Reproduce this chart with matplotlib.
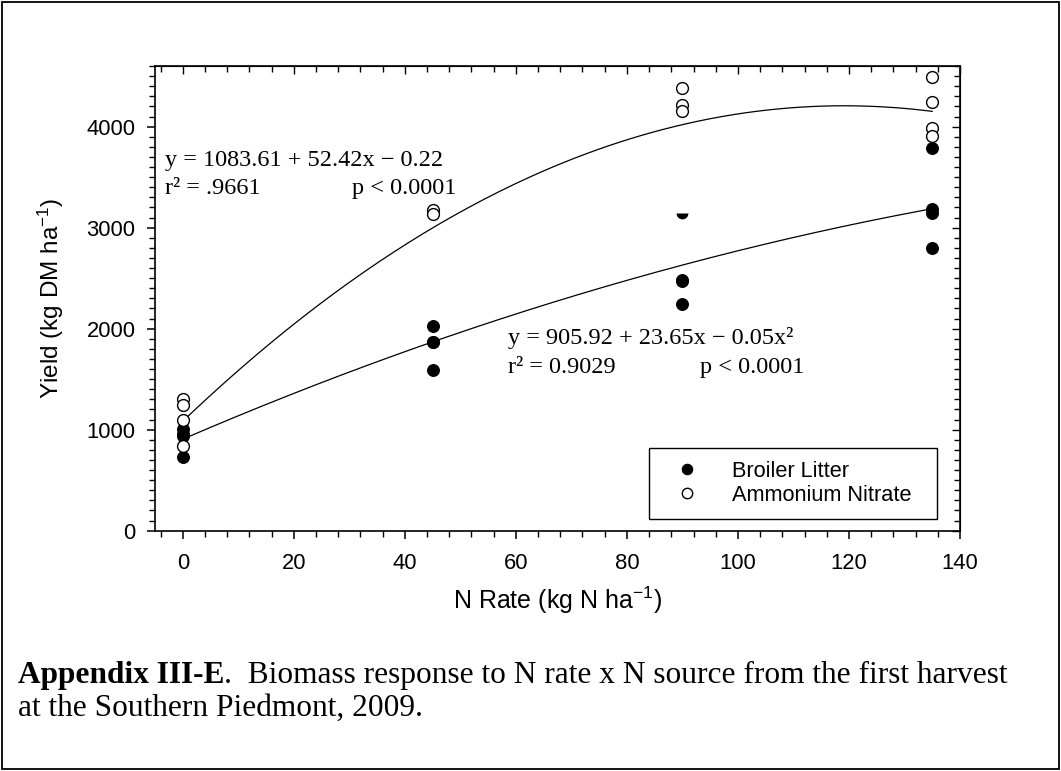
import numpy as np
import matplotlib
matplotlib.use("Agg")
from matplotlib import pyplot as plt
from matplotlib.patches import Rectangle

# N rate (kg N/ha) and yields (kg DM/ha)
bl_x = [0, 0, 0, 0, 45, 45, 45, 45, 90, 90, 90, 135, 135, 135, 135]
bl_y = [1005, 960, 940, 727, 2027, 1871, 1865, 1591, 2480, 2470, 2245, 3792, 3182, 3149, 2796]
bl_half_x = [90]          # partly hidden broiler litter point
bl_half_y = [3142]

an_x = [0, 0, 0, 0, 45, 45, 90, 90, 90, 135, 135, 135, 135]
an_y = [1305, 1240, 1095, 835, 3175, 3135, 4380, 4215, 4158, 4495, 4241, 3990, 3908]

# quadratic fits printed on the chart: b0 + b1*x + b2*x^2
bl_coef = [905.92, 23.65, -0.05]
an_coef = [1083.61, 52.42, -0.22]

x_ticks = [0, 20, 40, 60, 80, 100, 120, 140]
y_ticks = [0, 1000, 2000, 3000, 4000]

SANS = "Liberation Sans"
SERIF = "Liberation Serif"
plt.rcParams["font.family"] = SANS
plt.rcParams["mathtext.fontset"] = "custom"
plt.rcParams["mathtext.rm"] = SANS
plt.rcParams["mathtext.default"] = "regular"

fig = plt.figure(figsize=(10.61, 7.71), dpi=100)
ax = fig.add_axes([0.1461, 0.3117, 0.7587, 0.6027])

xs = np.linspace(0, 135, 200)
for c in (an_coef, bl_coef):
    ax.plot(xs, c[0] + c[1] * xs + c[2] * xs ** 2, color="black", lw=0.9, zorder=2)

ax.plot(bl_x, bl_y, "o", ms=8.5, mfc="black", mec="black", mew=0.8, ls="none",
        label="Broiler Litter", zorder=3)
ax.plot(an_x, an_y, "o", ms=8.5, mfc="white", mec="black", mew=1.0, ls="none",
        label="Ammonium Nitrate", zorder=3)
ax.plot(bl_half_x, bl_half_y, "o", ms=8.5, mfc="black", mec="none", fillstyle="bottom",
        markerfacecoloralt="none", ls="none", zorder=3)

ax.set_xlim(-5, 140)
ax.set_ylim(0, 4600)
ax.set_xticks(x_ticks)
ax.set_yticks(y_ticks)
ax.set_xticks(np.arange(-4, 141, 4), minor=True)
ax.set_yticks(np.arange(0, 4601, 100), minor=True)
ax.tick_params(axis="both", which="major", direction="out", length=6, width=1.1,
               labelsize=15.8, top=False, right=False)
ax.tick_params(axis="both", which="minor", direction="out", length=4, width=1.0)
ax.tick_params(axis="y", which="major", pad=8)
ax.tick_params(axis="x", which="major", pad=10)

# inward ticks on top and right
sec_x = ax.secondary_xaxis("top")
sec_x.set_xticks(x_ticks)
sec_x.set_xticks(np.arange(-4, 141, 4), minor=True)
sec_x.tick_params(which="major", direction="in", length=6, width=1.0, labeltop=False)
sec_x.tick_params(which="minor", direction="in", length=4, width=1.0)
sec_y = ax.secondary_yaxis("right")
sec_y.set_yticks(y_ticks)
sec_y.set_yticks(np.arange(0, 4601, 100), minor=True)
sec_y.tick_params(which="major", direction="in", length=6, width=1.0, labelright=False)
sec_y.tick_params(which="minor", direction="in", length=4, width=1.0)
for s in ax.spines.values():
    s.set_linewidth(1.2)

ax.set_xlabel("N Rate (kg N ha$^{-1}$)", fontsize=18)
ax.set_ylabel("Yield (kg DM ha$^{-1}$)", fontsize=17.5)
ax.xaxis.set_label_coords(0.5, -0.115)
ax.yaxis.set_label_coords(-0.11, 0.5)

eq_kw = dict(family=SERIF, fontsize=17.5, ha="left", va="center")
ax.text(-3.2, 3665, "y = 1083.61 + 52.42x \u2212 0.22", **eq_kw)
ax.text(-3.2, 3385, "r\u00b2 = .9661", **eq_kw)
ax.text(30.5, 3385, "p < 0.0001", **eq_kw)
ax.text(58.6, 1905, "y = 905.92 + 23.65x \u2212 0.05x\u00b2", **eq_kw)
ax.text(58.6, 1620, "r\u00b2 = 0.9029", **eq_kw)
ax.text(93.2, 1620, "p < 0.0001", **eq_kw)

leg = ax.legend(loc="lower left", bbox_to_anchor=(0.614, 0.025, 0.357, 0.151),
                mode="expand", fontsize=15.7, frameon=True, fancybox=False,
                edgecolor="black", framealpha=1, borderpad=0.6, handletextpad=0.9,
                labelspacing=0.15, handlelength=2.3, borderaxespad=0)
leg.get_frame().set_linewidth(1.0)
for h in leg.legend_handles:
    h.set_markersize(7.5)

# caption under the chart
cap = 22.6
bold = fig.text(0.017, 0.1245, "Appendix III-E", family=SERIF, fontsize=cap,
                fontweight="bold", va="center", ha="left")
fig.text(0.017, 0.0817, "at the Southern Piedmont, 2009.", family=SERIF, fontsize=cap,
         va="center", ha="left")
plt.annotate(".  Biomass response to N rate x N source from the first harvest",
             xy=(1, 0), xycoords=bold, va="bottom", ha="left",
             family=SERIF, fontsize=cap, annotation_clip=False)

# page frame
fig.patches.append(Rectangle((0.0015, 0.002), 0.997, 0.996, transform=fig.transFigure,
                             fill=False, edgecolor="black", lw=1.3))

fig.savefig("out.png", dpi=100)
